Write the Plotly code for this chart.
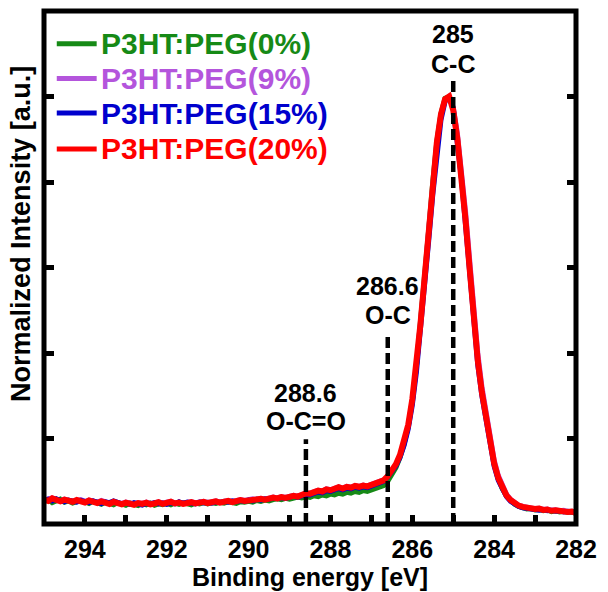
import numpy as np
import plotly.graph_objects as go

# Binding-energy grid of the C 1s scan (0.1 eV steps, 295 -> 282 eV)
energy = np.round(np.linspace(295.0, 282.0, 131), 1)

# Normalized C 1s intensities, one list per PEG loading
peg_0 = [
    0.052, 0.057, 0.050, 0.055, 0.058, 0.051, 0.054, 0.049, 0.053, 0.056,
    0.052, 0.048, 0.053, 0.050, 0.046, 0.051, 0.049, 0.045, 0.050, 0.047,
    0.044, 0.049, 0.046, 0.043, 0.048, 0.045, 0.049, 0.044, 0.047, 0.045,
    0.048, 0.045, 0.049, 0.046, 0.050, 0.047, 0.045, 0.049, 0.047, 0.050,
    0.047, 0.050, 0.048, 0.051, 0.049, 0.052, 0.050, 0.048, 0.052, 0.051,
    0.053, 0.051, 0.055, 0.053, 0.056, 0.054, 0.057, 0.059, 0.057, 0.060,
    0.058, 0.061, 0.063, 0.061, 0.064, 0.062, 0.066, 0.064, 0.068, 0.066,
    0.070, 0.068, 0.072, 0.070, 0.074, 0.072, 0.076, 0.074, 0.078, 0.076,
    0.080, 0.083, 0.086, 0.090, 0.100, 0.114, 0.132, 0.156, 0.187, 0.228,
    0.288, 0.368, 0.465, 0.572, 0.688, 0.800, 0.895, 0.960, 0.996, 1.000,
    0.970, 0.905, 0.820, 0.715, 0.600, 0.485, 0.385, 0.310, 0.248, 0.190,
    0.140, 0.106, 0.082, 0.066, 0.054, 0.046, 0.041, 0.038, 0.035, 0.036,
    0.033, 0.034, 0.031, 0.033, 0.029, 0.031, 0.028, 0.030, 0.027, 0.028,
    0.025,
]
peg_9 = [
    0.056, 0.059, 0.061, 0.057, 0.054, 0.058, 0.056, 0.053, 0.055, 0.057,
    0.053, 0.056, 0.054, 0.051, 0.055, 0.052, 0.049, 0.053, 0.050, 0.048,
    0.051, 0.049, 0.047, 0.050, 0.048, 0.051, 0.048, 0.050, 0.052, 0.049,
    0.050, 0.053, 0.049, 0.051, 0.049, 0.050, 0.052, 0.050, 0.051, 0.053,
    0.050, 0.052, 0.054, 0.051, 0.053, 0.055, 0.052, 0.054, 0.057, 0.055,
    0.056, 0.059, 0.057, 0.060, 0.058, 0.061, 0.063, 0.061, 0.064, 0.062,
    0.065, 0.067, 0.065, 0.069, 0.072, 0.072, 0.076, 0.079, 0.077, 0.082,
    0.080, 0.084, 0.087, 0.084, 0.088, 0.086, 0.090, 0.088, 0.091, 0.089,
    0.093, 0.096, 0.098, 0.103, 0.112, 0.124, 0.139, 0.160, 0.190, 0.230,
    0.290, 0.370, 0.466, 0.572, 0.688, 0.798, 0.892, 0.956, 0.992, 1.000,
    0.975, 0.915, 0.835, 0.732, 0.620, 0.502, 0.400, 0.322, 0.260, 0.202,
    0.150, 0.114, 0.088, 0.070, 0.058, 0.050, 0.044, 0.041, 0.039, 0.038,
    0.036, 0.037, 0.034, 0.035, 0.032, 0.033, 0.031, 0.032, 0.029, 0.030,
    0.027,
]
peg_15 = [
    0.055, 0.058, 0.054, 0.059, 0.055, 0.052, 0.056, 0.054, 0.051, 0.055,
    0.053, 0.050, 0.054, 0.051, 0.048, 0.052, 0.050, 0.054, 0.051, 0.047,
    0.049, 0.046, 0.050, 0.047, 0.044, 0.048, 0.046, 0.050, 0.047, 0.049,
    0.046, 0.050, 0.047, 0.052, 0.048, 0.051, 0.049, 0.047, 0.051, 0.049,
    0.051, 0.049, 0.052, 0.050, 0.053, 0.051, 0.054, 0.052, 0.055, 0.053,
    0.056, 0.054, 0.058, 0.056, 0.059, 0.058, 0.061, 0.059, 0.062, 0.060,
    0.063, 0.065, 0.063, 0.067, 0.069, 0.068, 0.072, 0.075, 0.073, 0.078,
    0.076, 0.080, 0.083, 0.080, 0.084, 0.082, 0.086, 0.084, 0.087, 0.085,
    0.089, 0.092, 0.095, 0.100, 0.110, 0.122, 0.136, 0.156, 0.184, 0.222,
    0.278, 0.355, 0.450, 0.552, 0.662, 0.770, 0.872, 0.945, 0.988, 1.000,
    0.972, 0.900, 0.808, 0.700, 0.585, 0.470, 0.372, 0.300, 0.240, 0.184,
    0.135, 0.102, 0.080, 0.064, 0.053, 0.046, 0.041, 0.038, 0.036, 0.035,
    0.034, 0.032, 0.034, 0.031, 0.032, 0.030, 0.031, 0.028, 0.030, 0.027,
    0.027,
]
peg_20 = [
    0.058, 0.054, 0.060, 0.056, 0.053, 0.057, 0.055, 0.052, 0.056, 0.054,
    0.050, 0.055, 0.052, 0.049, 0.053, 0.051, 0.047, 0.052, 0.049, 0.046,
    0.050, 0.048, 0.045, 0.049, 0.047, 0.050, 0.046, 0.048, 0.051, 0.047,
    0.049, 0.052, 0.048, 0.050, 0.047, 0.049, 0.051, 0.048, 0.050, 0.052,
    0.049, 0.051, 0.053, 0.050, 0.052, 0.054, 0.051, 0.053, 0.056, 0.054,
    0.055, 0.058, 0.056, 0.059, 0.057, 0.060, 0.062, 0.060, 0.063, 0.061,
    0.064, 0.066, 0.064, 0.068, 0.072, 0.071, 0.075, 0.078, 0.076, 0.081,
    0.079, 0.083, 0.086, 0.083, 0.087, 0.085, 0.089, 0.087, 0.090, 0.088,
    0.092, 0.095, 0.097, 0.102, 0.112, 0.125, 0.140, 0.162, 0.192, 0.232,
    0.292, 0.372, 0.468, 0.575, 0.690, 0.800, 0.893, 0.958, 0.994, 1.000,
    0.968, 0.902, 0.818, 0.712, 0.598, 0.482, 0.382, 0.308, 0.248, 0.192,
    0.142, 0.108, 0.084, 0.067, 0.056, 0.048, 0.043, 0.040, 0.038, 0.037,
    0.035, 0.036, 0.033, 0.034, 0.031, 0.032, 0.030, 0.031, 0.028, 0.029,
    0.026,
]

series_names = ["P3HT:PEG(0%)", "P3HT:PEG(9%)", "P3HT:PEG(15%)", "P3HT:PEG(20%)"]
series_values = [peg_0, peg_9, peg_15, peg_20]
series_colors = ["#168a16", "#b455dc", "#0000cd", "#ff0000"]
series_widths = [5, 5, 5, 6]

# Component assignments: position (eV), energy label, bond label
peak_energies = [285.0, 286.6, 288.6]
peak_labels = ["285", "286.6", "288.6"]
bond_labels = ["C-C", "O-C", "O-C=O"]
marker_tops = [1.048, 0.449, 0.198]

x_ticks = list(range(282, 295))
x_ticktext = [str(v) if v % 2 == 0 else "" for v in x_ticks]
y_ticks = [0.2, 0.4, 0.6, 0.8, 1.0]

FONT = "Liberation Sans, Arial, sans-serif"


def black_bold(size):
    return dict(family=FONT, size=size, color="black", weight="bold")


# label offsets above each dashed marker (px): bond line, energy line
bond_shift = [12, 17, 18]
energy_shift = [42, 46, 46]

# key rows (paper coords): line start, line end, text start, row heights
key_x0, key_x1, key_text_x = 0.024, 0.099, 0.104
key_rows = [0.936, 0.8685, 0.801, 0.731]

fig = go.Figure()
for name, vals, color, w in zip(series_names, series_values, series_colors, series_widths):
    assert len(vals) == len(energy)
    fig.add_trace(go.Scatter(
        x=energy, y=vals, mode="lines", name=name, showlegend=False,
        line=dict(color=color, width=w),
    ))

# colour-keyed series key in the upper-left corner
for name, color, yk in zip(series_names, series_colors, key_rows):
    fig.add_shape(type="line", xref="paper", yref="paper", x0=key_x0, x1=key_x1,
                  y0=yk, y1=yk, line=dict(color=color, width=5))
    fig.add_annotation(x=key_text_x, y=yk, xref="paper", yref="paper", text=name,
                       showarrow=False, xanchor="left", yanchor="middle",
                       font=dict(family=FONT, size=30, color=color, weight="bold"))

for e, top, lab, bond, bs, es in zip(peak_energies, marker_tops, peak_labels,
                                     bond_labels, bond_shift, energy_shift):
    fig.add_shape(type="line", xref="x", yref="y", x0=e, x1=e, y0=0, y1=top,
                  line=dict(color="black", width=4.5, dash="11px,5px"))
    fig.add_annotation(x=e, y=top, xref="x", yref="y", text=bond,
                       showarrow=False, yanchor="middle", yshift=bs,
                       font=black_bold(25))
    fig.add_annotation(x=e, y=top, xref="x", yref="y", text=lab,
                       showarrow=False, yanchor="middle", yshift=es,
                       font=black_bold(25))

# plot frame
fig.add_shape(type="rect", xref="paper", yref="paper", x0=0, x1=1, y0=0, y1=1,
              line=dict(color="black", width=5), layer="above")

fig.add_annotation(text="Normalized Intensity [a.u.]", xref="paper", yref="paper",
                   x=-0.0446, y=0.566, xanchor="center", yanchor="middle",
                   textangle=-90, showarrow=False, font=black_bold(27))

fig.update_layout(
    width=608, height=592,
    margin=dict(l=44, r=26, t=11, b=64),
    paper_bgcolor="white", plot_bgcolor="white",
    font=dict(family=FONT, color="black", weight="bold"),
    showlegend=False,
    xaxis=dict(range=[295, 282], tickvals=x_ticks, ticktext=x_ticktext,
               ticks="inside", ticklen=9.5, tickwidth=4.5, tickcolor="black",
               showgrid=False, zeroline=False, showline=False,
               ticklabelstandoff=8, tickfont=black_bold(25),
               title=dict(text="Binding energy [eV]", standoff=0,
                          font=black_bold(25))),
    yaxis=dict(range=[0, 1.2], tickvals=y_ticks, showticklabels=False,
               ticks="inside", ticklen=9.5, tickwidth=4.5, tickcolor="black",
               mirror="ticks", showgrid=False, zeroline=False, showline=False),
)

fig.write_html("out.html")
